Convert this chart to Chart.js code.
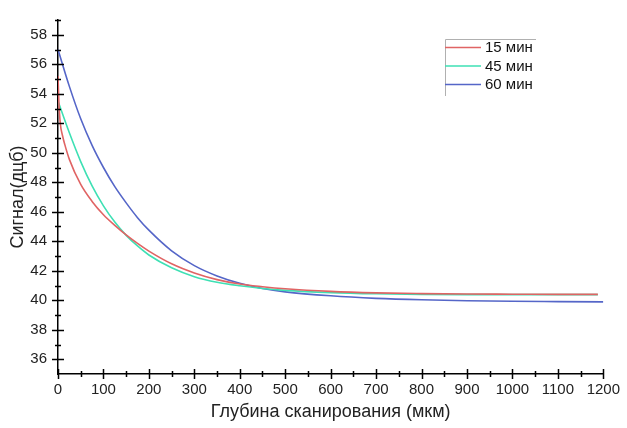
<!DOCTYPE html>
<html>
<head>
<meta charset="utf-8">
<script src="https://cdn.jsdelivr.net/npm/chart.js@4.4.1/dist/chart.umd.min.js"></script>
<style>
html,body{margin:0;padding:0;background:#fff;}
#wrap{width:627px;height:428px;position:relative;}
</style>
</head>
<body>
<div id="wrap"><canvas id="c" width="627" height="428"></canvas></div>
<script>
// ---- data ----
const seriesLabels = ['15 мин', '45 мин', '60 мин'];
const depth15 = [0,2,5,10,15,25,50,75,100,125,150,175,200,250,300,350,400,450,500,600,700,800,900,1000,1100,1188];
const signal15 = [55.2,53.4,52.0,51.15,50.55,49.55,47.85,46.7,45.8,45.08,44.43,43.85,43.33,42.47,41.85,41.4,41.1,40.92,40.78,40.6,40.5,40.45,40.42,40.41,40.4,40.4];
const depth45 = [0,25,50,75,100,125,150,175,200,250,300,350,400,450,500,600,700,800,900,1000,1100,1188];
const signal45 = [53.5,51.35,49.4,47.75,46.4,45.3,44.4,43.68,43.07,42.2,41.6,41.22,40.98,40.8,40.67,40.52,40.44,40.4,40.38,40.38,40.38,40.38];
const depth60 = [0,25,50,75,100,125,150,175,200,250,300,350,400,450,500,600,700,800,900,1000,1100,1200];
const signal60 = [57.0,54.5,52.3,50.5,49.0,47.7,46.6,45.6,44.75,43.35,42.35,41.65,41.15,40.8,40.57,40.3,40.13,40.03,39.97,39.93,39.91,39.89];
const xTickLabels = [0,100,200,300,400,500,600,700,800,900,1000,1100,1200];
const yTickLabels = [36,38,40,42,44,46,48,50,52,54,56,58];
const xTitle = 'Глубина сканирования (мкм)';
const yTitle = 'Сигнал(дцб)';

const colors = ['#e06464', '#3ee0b4', '#5566c8'];
const FONT = '"Liberation Sans", Arial, sans-serif';

function pts(xs, ys){ return xs.map((x,i)=>({x:x, y:ys[i]})); }

const axisTicks = {
  id: 'axisTicks',
  afterDraw(chart){
    const ctx = chart.ctx, xs = chart.scales.x, ys = chart.scales.y;
    const ax = xs.left, ay = ys.bottom;
    ctx.save();
    ctx.strokeStyle = '#000';
    ctx.lineWidth = 1.5;
    ctx.beginPath();
    ys.ticks.forEach(t => {
      const v = t.value;
      if (v === ys.min) return;
      const py = Math.round(ys.getPixelForValue(v)) + 0.5;
      const len = yTickLabels.includes(v) ? 6 : 3;
      ctx.moveTo(ax - len, py); ctx.lineTo(ax + len, py);
    });
    xs.ticks.forEach(t => {
      const v = t.value;
      const px = Math.round(xs.getPixelForValue(v)) + 0.5;
      const len = xTickLabels.includes(v) ? 5 : 3;
      ctx.moveTo(px, ay - len); ctx.lineTo(px, ay + len);
    });
    ctx.stroke();

    // legend
    const lx = 445, ly = 39;
    ctx.strokeStyle = '#b0b0b0';
    ctx.lineWidth = 1;
    ctx.beginPath();
    ctx.moveTo(lx + 0.5, ly + 0.5); ctx.lineTo(536, ly + 0.5);
    ctx.moveTo(lx + 0.5, ly + 0.5); ctx.lineTo(lx + 0.5, 96);
    ctx.stroke();
    ctx.font = '15px ' + FONT;
    ctx.textBaseline = 'middle';
    ctx.fillStyle = '#111';
    chart.data.datasets.forEach((ds, i) => {
      const yy = 47.5 + i * 18.5;
      ctx.strokeStyle = ds.borderColor;
      ctx.lineWidth = 1.6;
      ctx.beginPath();
      ctx.moveTo(lx, yy); ctx.lineTo(481, yy);
      ctx.stroke();
      ctx.fillText(ds.label, 485, yy + 0.5);
    });
    ctx.restore();
  }
};

new Chart(document.getElementById('c'), {
  type: 'line',
  data: {
    datasets: [
      { label: seriesLabels[0], data: pts(depth15, signal15), borderColor: colors[0] },
      { label: seriesLabels[1], data: pts(depth45, signal45), borderColor: colors[1] },
      { label: seriesLabels[2], data: pts(depth60, signal60), borderColor: colors[2] }
    ]
  },
  options: {
    responsive: false,
    animation: false,
    devicePixelRatio: 1,
    layout: { padding: { top: 8, right: 20, left: 0, bottom: 0 } },
    elements: {
      point: { radius: 0 },
      line: { borderWidth: 1.6, cubicInterpolationMode: 'monotone', fill: false }
    },
    plugins: { legend: { display: false }, tooltip: { enabled: false } },
    scales: {
      x: {
        type: 'linear', min: 0, max: 1200,
        grid: { display: false, drawTicks: false, tickLength: 0 },
        border: { display: true, color: '#000', width: 1.5 },
        ticks: {
          stepSize: 50, autoSkip: false, maxRotation: 0, padding: 7,
          color: '#222', font: { family: FONT, size: 15 },
          callback: v => xTickLabels.includes(v) ? String(v) : ''
        },
        title: { display: true, text: xTitle, color: '#222', font: { family: FONT, size: 18 }, padding: { top: 0, bottom: 5 } },
        afterFit: s => { s.height = 54; }
      },
      y: {
        min: 35, max: 59,
        grid: { display: false, drawTicks: false, tickLength: 0 },
        border: { display: true, color: '#000', width: 1.5 },
        ticks: {
          stepSize: 1, autoSkip: false, padding: 11,
          color: '#222', font: { family: FONT, size: 15 },
          callback: v => yTickLabels.includes(v) ? String(v) : ''
        },
        title: { display: true, text: yTitle, color: '#222', font: { family: FONT, size: 18 }, padding: { top: 7, bottom: 0 } },
        afterFit: s => { s.width = 58; }
      }
    }
  },
  plugins: [axisTicks]
});
</script>
</body>
</html>
